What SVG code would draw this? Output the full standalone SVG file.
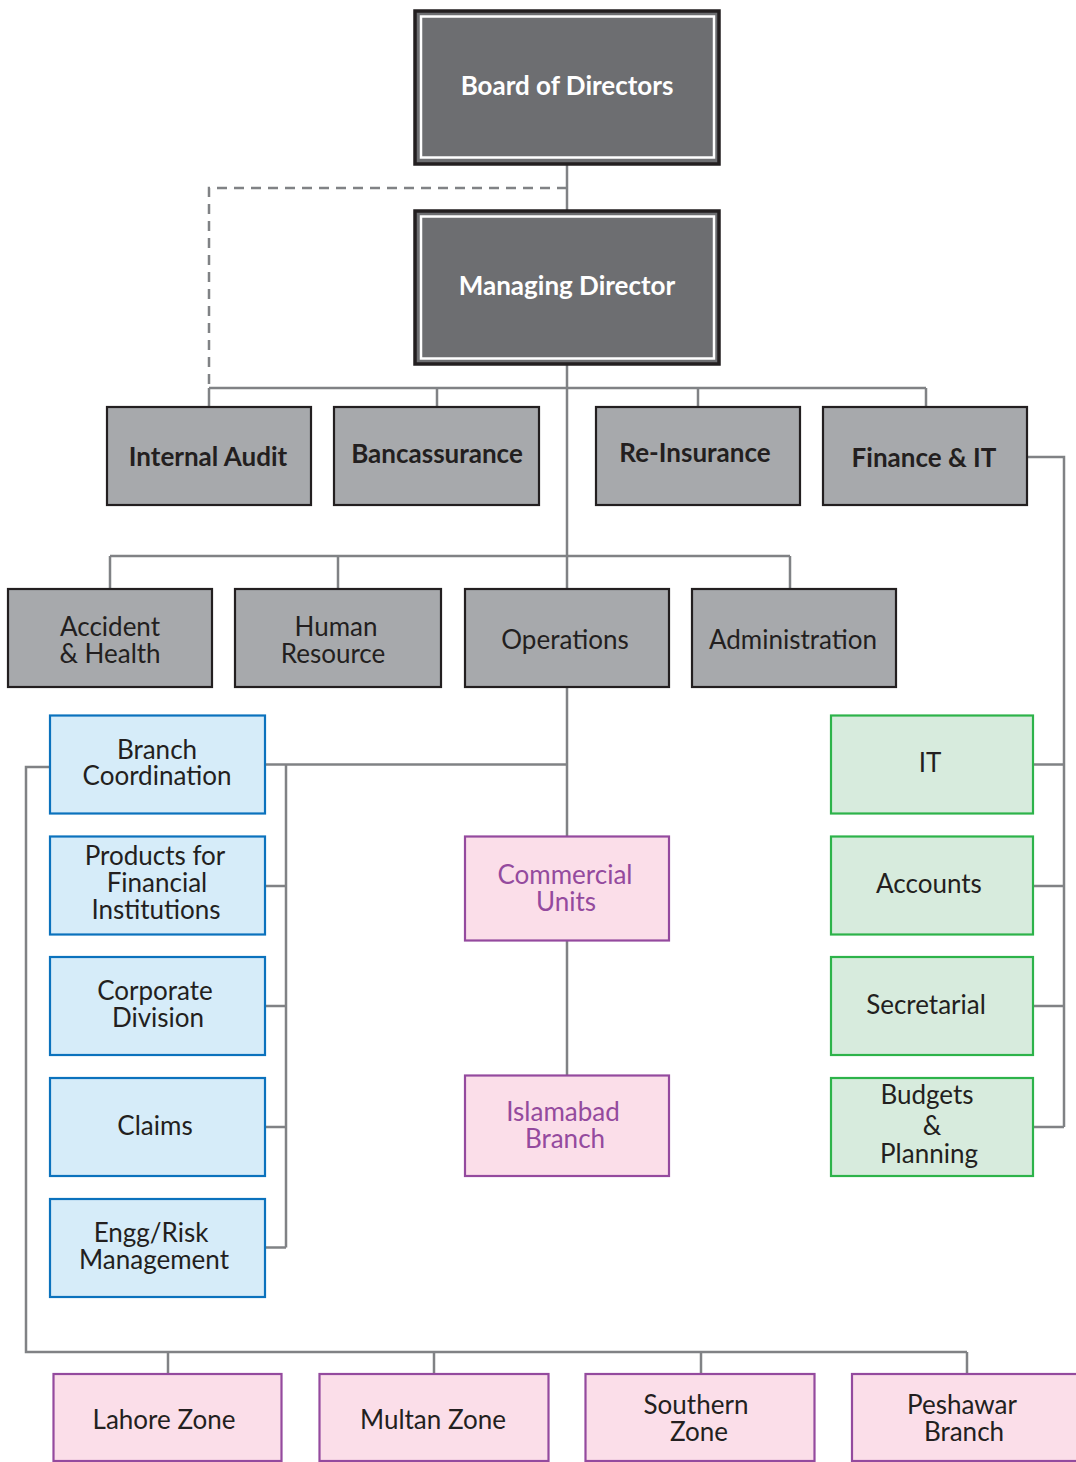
<svg xmlns="http://www.w3.org/2000/svg" width="1076" height="1462" viewBox="0 0 1076 1462">
<style>
.bg{fill:#ffffff}
.c{fill:none;stroke:#808285;stroke-width:2.5}
.d{fill:none;stroke:#808285;stroke-width:2.5;stroke-dasharray:10 7}
.top{fill:#6d6e71;stroke:#231f20;stroke-width:3.5}
.topin{fill:none;stroke:#ffffff;stroke-width:2.5}
.g{fill:#a7a9ac;stroke:#231f20;stroke-width:2.2}
.b{fill:#d6ecf9;stroke:#0b72bd;stroke-width:2.2}
.p{fill:#fbdee9;stroke:#944a9e;stroke-width:2.2}
.gr{fill:#d7ebdd;stroke:#2db34a;stroke-width:2.2}
text{font-family:Lato,"Liberation Sans",sans-serif;text-anchor:middle;font-size:26px;fill:#231f20}
.tw{fill:#ffffff;font-weight:bold;font-size:26px}
.tb{font-weight:bold;font-size:26px}
.tp{fill:#944a9e}
</style>
<rect class="bg" x="0" y="0" width="1076" height="1462"/>
<g id="connectors">
<path class="c" d="M567,165V210"/>
<path class="d" d="M567,188H209V388"/>
<path class="c" d="M567,365V589M567,688V836M567,941V1075"/>
<path class="c" d="M209,388H926M209,388V407M437,388V407M698,388V407M926,388V407"/>
<path class="c" d="M110,556H790M110,556V589M338,556V589M790,556V589"/>
<path class="c" d="M265,764.5H567"/>
<path class="c" d="M286,764.5V1247.5M265,886H286M265,1006H286M265,1127H286M265,1247.5H286"/>
<path class="c" d="M49,767H26V1352H967M168,1352V1373M434,1352V1373M701,1352V1373M967,1352V1373"/>
<path class="c" d="M1027,457H1064V1127M1032,764.5H1064M1032,886H1064M1032,1006H1064M1032,1127H1064"/>
</g>
<g id="board">
<rect class="top" x="415" y="11" width="304" height="153"/>
<rect class="topin" x="421" y="16.5" width="293" height="141"/>
<text class="tw" x="567" y="95">Board of Directors</text>
</g>
<g id="md">
<rect class="top" x="415" y="211" width="304" height="153"/>
<rect class="topin" x="421" y="216.5" width="293" height="142"/>
<text class="tw" x="567" y="295">Managing Director</text>
</g>
<g id="internal-audit">
<rect class="g" x="107" y="407" width="204" height="98"/>
<text class="tb" x="208" y="466">Internal Audit</text>
</g>
<g id="bancassurance">
<rect class="g" x="334" y="407" width="205" height="98"/>
<text class="tb" x="437" y="463">Bancassurance</text>
</g>
<g id="reinsurance">
<rect class="g" x="596" y="407" width="204" height="98"/>
<text class="tb" x="695" y="462">Re-Insurance</text>
</g>
<g id="finance-it">
<rect class="g" x="823" y="407" width="204" height="98"/>
<text class="tb" x="924" y="467">Finance &amp; IT</text>
</g>
<g id="accident-health">
<rect class="g" x="8" y="589" width="204" height="98"/>
<text x="110" y="635.5">Accident</text>
<text x="110" y="662.5">&amp; Health</text>
</g>
<g id="human-resource">
<rect class="g" x="235" y="589" width="206" height="98"/>
<text x="336" y="635.5">Human</text>
<text x="333" y="662.5">Resource</text>
</g>
<g id="operations">
<rect class="g" x="465" y="589" width="204" height="98"/>
<text x="565" y="648.5">Operations</text>
</g>
<g id="administration">
<rect class="g" x="692" y="589" width="204" height="98"/>
<text x="793" y="648.5">Administration</text>
</g>
<g id="branch-coordination">
<rect class="b" x="50" y="715.5" width="215" height="98"/>
<text x="157" y="758.5">Branch</text>
<text x="157" y="785">Coordination</text>
</g>
<g id="products-fi">
<rect class="b" x="50" y="836.5" width="215" height="98"/>
<text x="155" y="865">Products for</text>
<text x="157" y="891.5">Financial</text>
<text x="156" y="918.5">Institutions</text>
</g>
<g id="corporate-division">
<rect class="b" x="50" y="957" width="215" height="98"/>
<text x="155" y="1000">Corporate</text>
<text x="158" y="1026.5">Division</text>
</g>
<g id="claims">
<rect class="b" x="50" y="1078" width="215" height="98"/>
<text x="155" y="1135">Claims</text>
</g>
<g id="engg-risk">
<rect class="b" x="50" y="1199" width="215" height="98"/>
<text x="151" y="1241.5">Engg/Risk</text>
<text x="154" y="1268.5">Management</text>
</g>
<g id="commercial-units">
<rect class="p" x="465" y="836.5" width="204" height="104"/>
<text class="tp" x="565" y="884">Commercial</text>
<text class="tp" x="566" y="910.5">Units</text>
</g>
<g id="islamabad-branch">
<rect class="p" x="465" y="1075.5" width="204" height="100.5"/>
<text class="tp" x="563" y="1120.5">Islamabad</text>
<text class="tp" x="565" y="1147.5">Branch</text>
</g>
<g id="it">
<rect class="gr" x="831" y="715.5" width="202" height="98"/>
<text x="930" y="771.5">IT</text>
</g>
<g id="accounts">
<rect class="gr" x="831" y="836.5" width="202" height="98"/>
<text x="929" y="892.5">Accounts</text>
</g>
<g id="secretarial">
<rect class="gr" x="831" y="957" width="202" height="98"/>
<text x="926" y="1013.5">Secretarial</text>
</g>
<g id="budgets-planning">
<rect class="gr" x="831" y="1078" width="202" height="98"/>
<text x="927" y="1103.5">Budgets</text>
<text x="932" y="1135">&amp;</text>
<text x="929" y="1163">Planning</text>
</g>
<g id="lahore-zone">
<rect class="p" x="53.5" y="1374" width="228" height="87"/>
<text x="164" y="1428.5">Lahore Zone</text>
</g>
<g id="multan-zone">
<rect class="p" x="319.5" y="1374" width="229" height="87"/>
<text x="433" y="1428.5">Multan Zone</text>
</g>
<g id="southern-zone">
<rect class="p" x="585.5" y="1374" width="229" height="87"/>
<text x="696" y="1414">Southern</text>
<text x="699" y="1441">Zone</text>
</g>
<g id="peshawar-branch">
<rect class="p" x="852" y="1374" width="230" height="87"/>
<text x="962" y="1414">Peshawar</text>
<text x="964" y="1441">Branch</text>
</g>
</svg>
